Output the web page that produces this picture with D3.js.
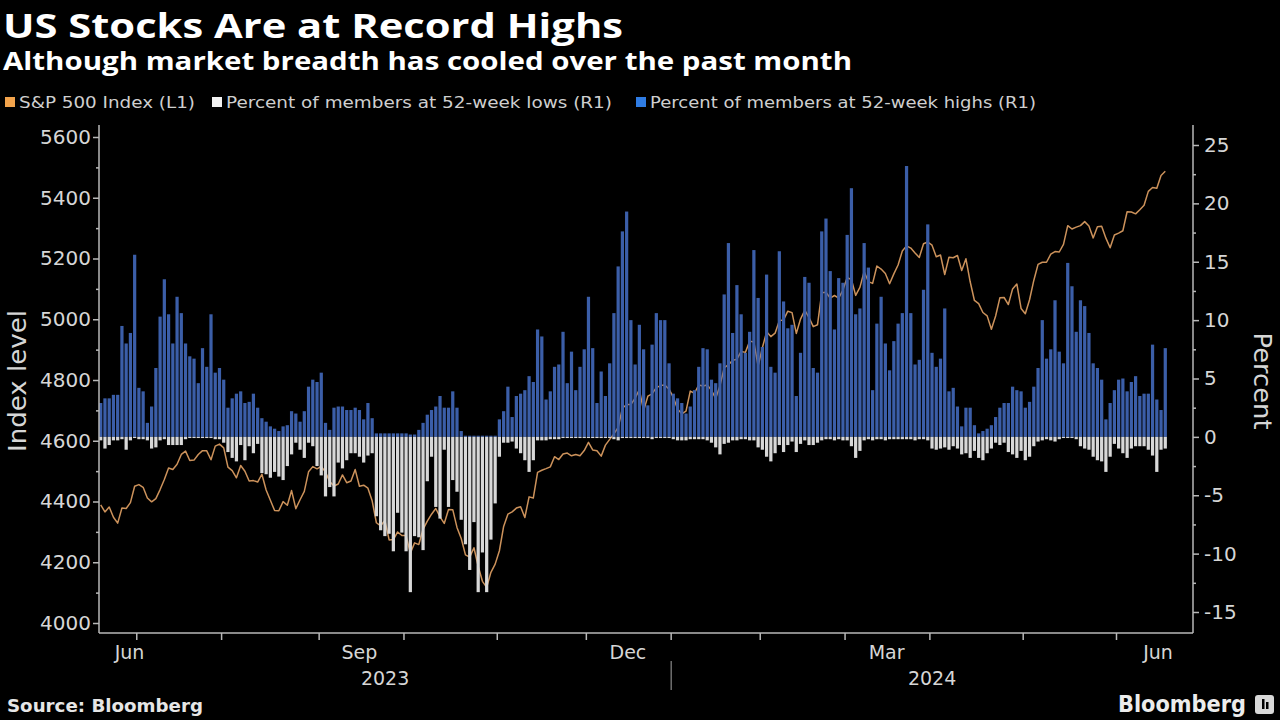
<!DOCTYPE html>
<html><head><meta charset="utf-8">
<script src="https://cdn.jsdelivr.net/npm/d3@7"></script>
<style>html,body{margin:0;padding:0;background:#000;} svg{display:block}</style>
</head><body>
<svg id="chart" width="1280" height="720"></svg>
<script>
// ---- DATA (one value per trading day, 20 Jun 2023 .. 18 Jun 2024) ----
const spx = [
 4388.71,4365.69,4381.89,4348.33,4328.82,4378.41,4376.86,4396.44,4450.38,
 4455.59,4446.82,4411.59,4398.95,4409.53,4439.26,4472.16,4510.04,4505.42,4522.79,4554.98,4565.72,4534.87,4536.34,4554.64,4567.46,4566.75,4537.41,4582.23,4588.96,
 4576.73,4513.39,4501.89,4478.03,4518.44,4499.38,4467.71,4468.83,4464.05,4489.72,4437.86,4404.33,4370.36,4369.71,4399.77,4387.55,4436.01,4376.31,4405.71,4433.31,4497.63,4514.87,4507.66,
 4515.77,4496.83,4465.48,4451.14,4457.49,4487.46,4461.90,4467.44,4505.10,4450.32,4453.53,4443.95,4402.20,4330.00,4320.06,4337.44,4273.53,4274.51,4299.70,4288.05,
 4288.39,4229.45,4263.75,4258.19,4308.50,4335.66,4358.24,4376.95,4349.61,4327.78,4373.63,4373.20,4314.60,4278.00,4224.16,4217.04,4247.68,4186.77,4137.23,4117.37,4166.82,4193.80,
 4237.86,4317.78,4358.34,4365.98,4378.38,4382.78,4347.35,4415.24,4411.55,4495.70,4502.88,4508.24,4514.02,4547.38,4538.19,4556.62,4559.34,4550.43,4554.89,4550.58,4567.80,
 4594.63,4569.78,4567.18,4549.34,4585.59,4604.37,4622.44,4643.70,4707.09,4719.55,4719.19,4740.56,4768.37,4698.35,4746.75,4754.63,4774.75,4781.58,4783.35,4769.83,
 4742.83,4704.81,4688.68,4697.24,4763.54,4756.50,4783.45,4780.24,4783.83,4765.98,4739.21,4780.94,4839.81,4850.43,4864.60,4868.55,4894.16,4890.97,4927.93,4924.97,4845.65,
 4906.19,4958.61,4942.81,4954.23,4995.06,4997.91,5026.61,5021.84,4953.17,5000.62,5029.73,5005.57,4975.51,4981.80,5087.03,5088.80,5069.53,5078.18,5069.76,5096.27,
 5137.08,5130.95,5078.65,5104.76,5157.36,5123.69,5117.94,5175.27,5165.31,5150.48,5117.09,5149.42,5178.51,5224.62,5241.53,5234.18,5218.19,5203.58,5248.49,5254.35,
 5243.77,5205.81,5211.49,5147.21,5204.34,5202.39,5209.91,5160.64,5199.06,5123.41,5061.82,5051.41,5022.21,5011.12,4967.23,5010.60,5070.55,5071.63,5048.42,5099.96,5116.17,5035.69,
 5018.39,5064.20,5127.79,5180.74,5187.70,5187.67,5214.08,5222.68,5221.42,5246.68,5308.15,5297.10,5303.27,5308.13,5321.41,5307.01,5267.84,5304.72,5306.04,5266.95,5235.48,5277.51,
 5283.40,5291.34,5354.03,5352.96,5346.99,5360.79,5375.32,5421.03,5433.74,5431.60,5473.23,5487.03
];
const highs = [
 2.9,3.3,3.3,3.6,3.6,9.5,8.0,8.9,15.6,
 4.2,3.9,1.2,2.6,5.9,10.3,13.5,10.5,8.0,12.0,10.6,8.0,6.9,6.7,4.6,7.6,6.0,10.5,5.5,5.9,
 4.9,2.5,3.3,3.7,3.9,2.9,3.0,3.7,2.5,1.6,1.3,0.9,0.7,0.5,0.9,1.0,2.2,2.0,1.3,2.2,4.3,4.9,4.7,
 5.5,1.2,0.6,2.5,2.6,2.6,2.3,2.3,2.5,2.3,1.5,2.9,1.6,0.3,0.3,0.3,0.3,0.3,0.3,0.3,
 0.3,0.2,0.2,0.6,1.2,1.9,2.3,2.6,3.5,2.5,2.5,3.9,2.5,0.5,0.1,0.1,0.1,0.1,0.1,0.1,0.1,0.1,
 1.5,2.2,4.3,1.7,3.5,3.7,4.0,5.2,4.7,9.2,8.6,3.2,3.9,6.0,6.2,9.0,4.6,7.3,4.0,6.0,7.5,
 12.0,7.6,2.9,5.6,3.5,6.3,10.6,14.6,17.6,19.3,10.0,6.2,9.6,7.5,2.7,7.9,10.6,10.0,10.0,6.3,
 3.7,3.3,2.9,2.0,2.6,4.0,6.0,7.6,7.5,4.9,4.6,6.3,12.2,16.6,8.9,13.0,10.5,7.2,9.0,16.0,11.9,
 7.7,13.9,6.0,5.5,15.9,11.6,9.3,9.6,3.5,7.2,13.7,13.2,5.9,5.5,17.6,18.7,14.2,9.2,13.6,13.2,
 17.3,21.3,10.5,11.0,16.6,14.5,4.0,9.7,12.0,8.0,5.7,8.2,9.7,10.6,23.2,10.6,6.2,6.6,12.6,18.2,
 7.2,6.0,6.7,11.0,3.9,4.2,2.6,0.9,2.5,2.5,1.0,0.3,0.5,0.7,1.0,1.7,2.5,2.9,2.9,4.3,4.0,3.9,
 2.5,3.0,4.3,5.9,10.0,6.7,7.5,11.7,7.3,6.3,14.9,12.9,9.0,11.7,11.2,8.9,6.3,5.9,4.9,1.5,2.9,4.0,
 4.9,5.0,3.9,4.7,5.2,3.5,3.7,3.7,7.9,3.2,2.3,7.6
];
const lows = [
 -0.3,-1.0,-0.7,-0.3,-0.3,-0.2,-1.1,-0.3,-0.1,
 -0.2,-0.2,-0.3,-1.0,-0.9,-0.3,-0.2,-0.7,-0.7,-0.7,-0.7,-0.2,-0.1,-0.1,-0.1,-0.1,-0.1,-0.1,-0.2,-0.2,
 -0.5,-1.3,-1.8,-2.1,-0.7,-2.0,-0.8,-1.4,-0.6,-3.1,-3.2,-3.5,-3.0,-3.4,-3.7,-2.5,-1.5,-0.5,-1.1,-1.8,-0.5,-0.8,-2.5,
 -3.3,-5.1,-4.3,-5.1,-2.2,-2.7,-2.0,-1.4,-1.4,-1.7,-2.2,-1.6,-1.4,-6.8,-8.0,-8.5,-8.3,-9.8,-6.5,-8.2,
 -9.8,-13.3,-8.5,-8.6,-9.7,-3.8,-1.7,-6.0,-7.0,-1.1,-6.0,-3.7,-4.7,-7.1,-9.2,-11.4,-7.3,-13.3,-9.9,-13.3,-8.8,-5.7,
 -1.7,-0.5,-0.5,-0.4,-1.0,-1.4,-2.0,-3.0,-2.0,-0.3,-0.3,-0.3,-0.2,-0.2,-0.2,-0.1,-0.1,-0.1,-0.1,-0.1,-0.1,
 -0.1,-0.1,-0.1,-0.1,-0.1,-0.1,-0.2,-0.3,-0.1,-0.1,-0.1,-0.1,-0.1,-0.1,-0.1,-0.2,-0.1,-0.1,-0.1,-0.1,
 -0.2,-0.3,-0.3,-0.3,-0.2,-0.2,-0.2,-0.2,-0.3,-0.5,-0.9,-1.5,-0.6,-0.5,-0.3,-0.3,-0.2,-0.2,-0.3,-0.3,-0.9,
 -1.1,-1.7,-2.1,-1.4,-0.7,-1.3,-0.7,-0.4,-1.3,-0.6,-0.3,-0.7,-0.7,-0.5,-0.3,-0.2,-0.2,-0.3,-0.2,-0.3,
 -0.3,-0.8,-1.8,-1.2,-0.3,-0.2,-0.3,-0.2,-0.2,-0.3,-0.2,-0.2,-0.2,-0.2,-0.2,-0.2,-0.3,-0.2,-0.2,-0.3,
 -1.0,-1.1,-1.0,-0.9,-1.1,-0.8,-1.0,-1.5,-1.4,-1.8,-1.2,-1.8,-2.0,-1.4,-1.0,-0.5,-0.7,-0.5,-1.3,-1.5,-1.8,-1.2,
 -2.0,-1.7,-0.8,-0.4,-0.3,-0.2,-0.3,-0.4,-0.2,-0.1,-0.1,-0.1,-0.2,-0.8,-1.0,-1.1,-1.7,-2.0,-2.1,-3.0,-1.7,-0.6,
 -1.0,-1.4,-1.8,-1.0,-0.8,-0.8,-0.8,-1.1,-1.6,-3.0,-1.1,-1.0
];
// index (trading day) where each month starts: Jul 2023 .. Jun 2024
const monthStarts = [9,29,52,72,94,115,135,156,176,196,218,240];
const monthLabels = ["Jun","Sep","Dec","Mar","Jun"];
const monthLabelSlots = [7.3,61.5,124.8,185.8,249.8];
const yearLabels = ["2023","2024"];
const yearBreak = 135;
const leftTicks = [4000,4200,4400,4600,4800,5000,5200,5400,5600];
const leftMinor = [4100,4300,4500,4700,4900,5100,5300,5500];
const rightTicks = [-15,-10,-5,0,5,10,15,20,25];
const rightMinor = [-12.5,-7.5,-2.5,2.5,7.5,12.5,17.5,22.5];
const legendItems = ["S&P 500 Index (L1)","Percent of members at 52-week lows (R1)","Percent of members at 52-week highs (R1)"];

// ---- DRAW ----
const svg = d3.select("#chart");
svg.append("rect").attr("width",1280).attr("height",720).attr("fill","#000");
const P = {l:99, r:1193, t:125, b:633};
const N = spx.length;
const x = d3.scaleBand().domain(d3.range(N)).range([98.6,1167.4]).paddingInner(0.24).paddingOuter(0.12);
const xc = i => x(i) + x.bandwidth()/2;
const xb = i => x.range()[0] + x.step()*i;   // slot boundary
const yL = d3.scaleLinear().domain([4000,5600]).range([623,137]);
const yR = d3.scaleLinear().domain([-15,25]).range([612,145]);

const FONT = "'DejaVu Sans', sans-serif";
const AX = "#b8b8b8", TX = "#d6d6d6";

// title etc
svg.append("text").attr("x",3).attr("y",37.5).text("US Stocks Are at Record Highs")
  .attr("font-family","'Open Sans', 'DejaVu Sans', sans-serif").attr("font-weight",700).attr("font-size",34)
  .attr("fill","#fff").attr("textLength",620).attr("lengthAdjust","spacingAndGlyphs");
svg.append("text").attr("x",3).attr("y",70).text("Although market breadth has cooled over the past month")
  .attr("font-family","'Open Sans', 'DejaVu Sans', sans-serif").attr("font-weight",700).attr("font-size",25)
  .attr("fill","#fff").attr("textLength",849).attr("lengthAdjust","spacingAndGlyphs");

// legend
const legCol = ["#f2a34c","#f2f2f2","#2f7ce4"];
const legSq = [5,212,636], legTx = [19,226,650], legW = [176,386,386];
legendItems.forEach((t,k)=>{
  svg.append("rect").attr("x",legSq[k]).attr("y",97).attr("width",10).attr("height",10).attr("fill",legCol[k]);
  svg.append("text").attr("x",legTx[k]).attr("y",107.5).text(t)
    .attr("font-family",FONT).attr("font-size",15.5).attr("fill","#cfcfcf")
    .attr("textLength",legW[k]).attr("lengthAdjust","spacingAndGlyphs");
});

// S&P line (drawn beneath the bars, visible through the gaps)
svg.append("path").datum(spx)
  .attr("d", d3.line().x((d,i)=>xc(i)).y(d=>yL(d)))
  .attr("fill","none").attr("stroke","#cc925b").attr("stroke-width",1.5).attr("stroke-linejoin","round");

// bars
svg.append("g").selectAll("rect").data(highs).join("rect")
  .attr("x",(d,i)=>x(i)).attr("width",x.bandwidth())
  .attr("y",d=>yR(d)).attr("height",d=>yR(0)-yR(d)).attr("fill","#3b5ea8");
svg.append("g").selectAll("rect").data(lows).join("rect")
  .attr("x",(d,i)=>x(i)).attr("width",x.bandwidth())
  .attr("y",yR(0)).attr("height",d=>yR(d)-yR(0)).attr("fill","#d8d8d8");

// axes frame
const frame = svg.append("g").attr("stroke",AX).attr("stroke-width",1.5);
frame.append("line").attr("x1",P.l).attr("x2",P.l).attr("y1",P.t).attr("y2",P.b);
frame.append("line").attr("x1",P.r).attr("x2",P.r).attr("y1",P.t).attr("y2",P.b);
frame.append("line").attr("x1",P.l).attr("x2",P.r).attr("y1",P.b).attr("y2",P.b);

function styleAxis(g){
  g.select(".domain").remove();
  g.selectAll(".tick line").attr("stroke",AX).attr("stroke-width",1.5);
  g.selectAll(".tick text").attr("fill",TX).attr("font-family",FONT).attr("font-size",20);
}
svg.append("g").attr("transform",`translate(${P.l},0)`)
  .call(d3.axisLeft(yL).tickValues(leftTicks).tickSize(6).tickPadding(2).tickFormat(d=>String(d))).call(styleAxis);
svg.append("g").attr("transform",`translate(${P.l},0)`)
  .call(d3.axisLeft(yL).tickValues(leftMinor).tickSize(3).tickFormat("")).call(styleAxis);
svg.append("g").attr("transform",`translate(${P.r},0)`)
  .call(d3.axisRight(yR).tickValues(rightTicks).tickSize(6).tickPadding(5).tickFormat(d=>String(d))).call(styleAxis);
svg.append("g").attr("transform",`translate(${P.r},0)`)
  .call(d3.axisRight(yR).tickValues(rightMinor).tickSize(3).tickFormat("")).call(styleAxis);

// x axis: month boundary ticks
svg.append("g").selectAll("line").data(monthStarts).join("line")
  .attr("x1",d=>xb(d)).attr("x2",d=>xb(d)).attr("y1",P.b).attr("y2",P.b+7)
  .attr("stroke",AX).attr("stroke-width",1.5);
svg.append("g").selectAll("text").data(monthLabels).join("text")
  .attr("x",(d,k)=>x.range()[0]+x.step()*monthLabelSlots[k]).attr("y",659)
  .attr("text-anchor","middle").text(d=>d)
  .attr("font-family",FONT).attr("font-size",19).attr("fill",TX);
const xBreak = xb(yearBreak);
svg.append("line").attr("x1",xBreak).attr("x2",xBreak).attr("y1",661).attr("y2",690)
  .attr("stroke","#8a8a8a").attr("stroke-width",1.2);
const yearPos = [(P.l+xBreak)/2,(xBreak+P.r)/2];
svg.append("g").selectAll("text").data(yearLabels).join("text")
  .attr("x",(d,k)=>yearPos[k]).attr("y",685).attr("text-anchor","middle").text(d=>d)
  .attr("font-family",FONT).attr("font-size",19).attr("fill",TX);

// axis titles
svg.append("text").attr("transform","translate(26,381) rotate(-90)").attr("text-anchor","middle")
  .text("Index level").attr("font-family",FONT).attr("font-size",25).attr("fill",TX)
  .attr("textLength",142).attr("lengthAdjust","spacingAndGlyphs");
svg.append("text").attr("transform","translate(1254,381) rotate(90)").attr("text-anchor","middle")
  .text("Percent").attr("font-family",FONT).attr("font-size",25).attr("fill",TX)
  .attr("textLength",97).attr("lengthAdjust","spacingAndGlyphs");

// footer
svg.append("text").attr("x",7).attr("y",712).text("Source: Bloomberg")
  .attr("font-family",FONT).attr("font-weight",700).attr("font-size",17).attr("fill","#e6e6e6")
  .attr("textLength",196).attr("lengthAdjust","spacingAndGlyphs");
svg.append("text").attr("x",1118).attr("y",712).text("Bloomberg")
  .attr("font-family",FONT).attr("font-weight",700).attr("font-size",23).attr("fill","#ececec")
  .attr("textLength",128).attr("lengthAdjust","spacingAndGlyphs");
svg.append("rect").attr("x",1255).attr("y",695).attr("width",19).attr("height",19).attr("rx",3).attr("fill","#d8d8d8");
svg.append("rect").attr("x",1262).attr("y",699).attr("width",2.5).attr("height",10).attr("fill","#000");
svg.append("rect").attr("x",1266).attr("y",702).attr("width",2.5).attr("height",7).attr("fill","#000");
</script>
</body></html>
